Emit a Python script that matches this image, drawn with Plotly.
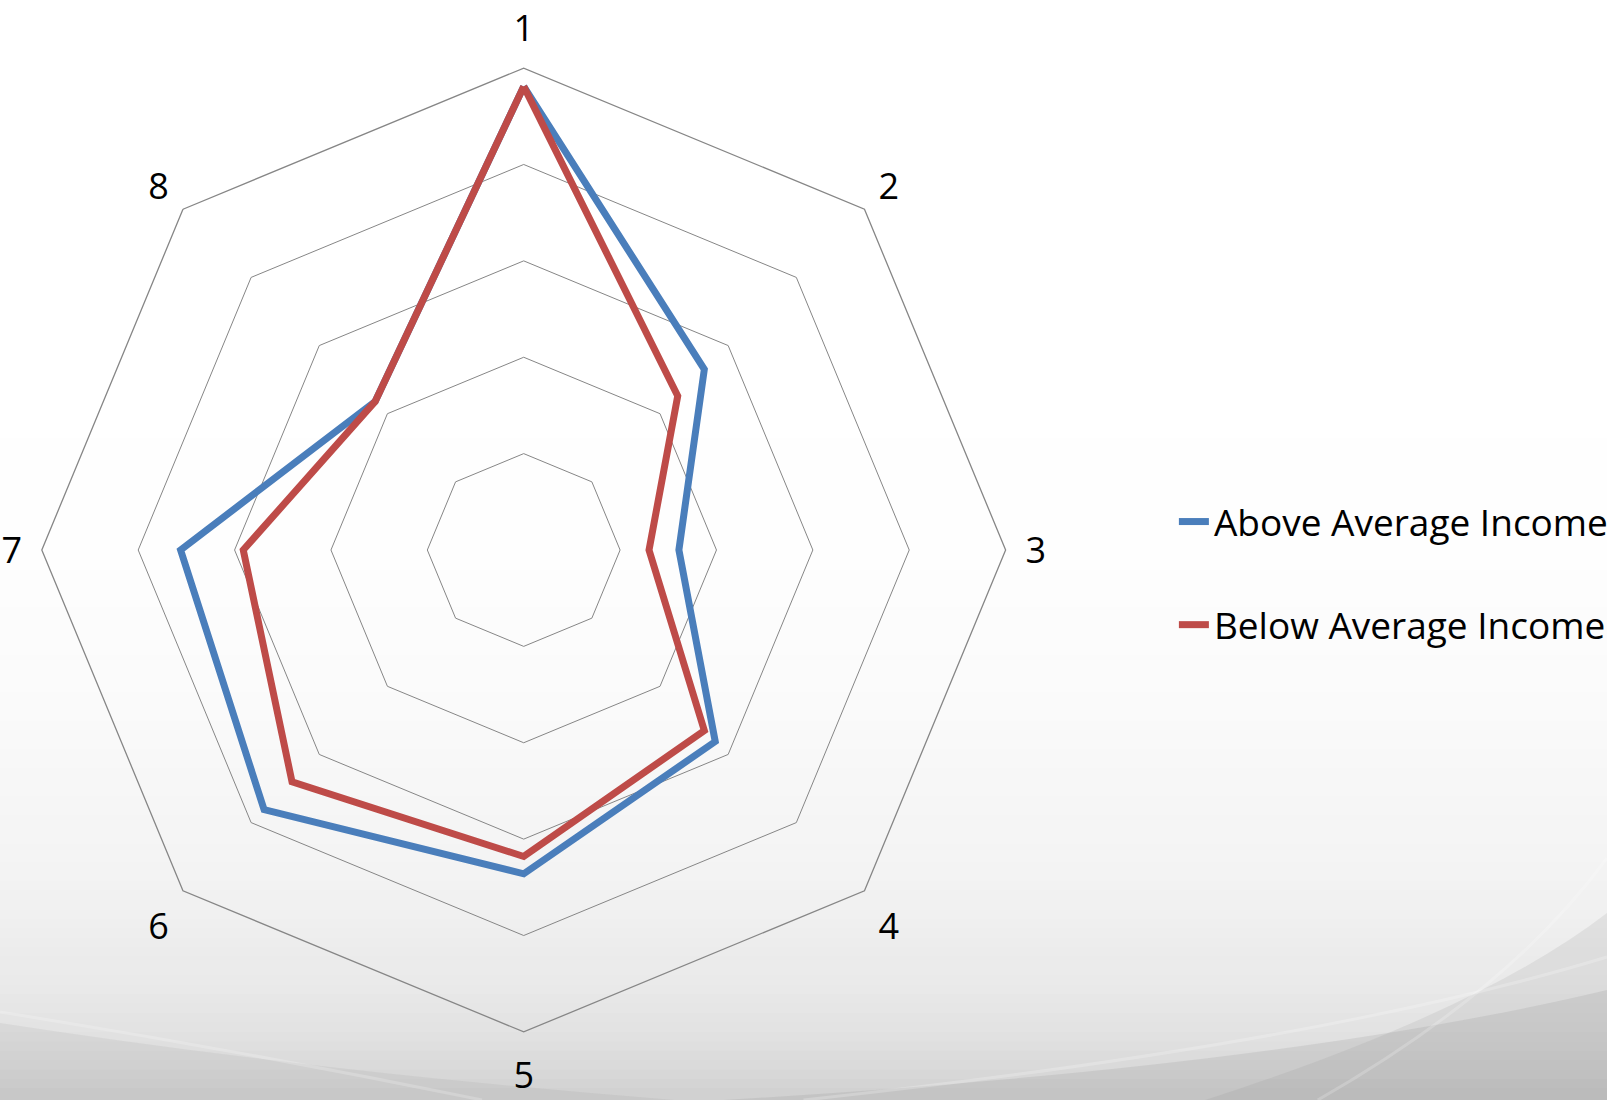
import plotly.graph_objects as go

categories = ["1", "2", "3", "4", "5", "6", "7", "8"]
above_avg = [4.81, 2.65, 1.61, 2.81, 3.36, 3.81, 3.56, 2.18]
below_avg = [4.81, 2.26, 1.30, 2.65, 3.18, 3.40, 2.91, 2.18]
series_names = ["Above Average Income", "Below Average Income"]
series_colors = ["#4A7EBB", "#BE4B48"]

W, H = 1614, 1100
fig = go.Figure()
for name, vals, col in zip(series_names, [above_avg, below_avg], series_colors):
    fig.add_trace(go.Scatterpolar(
        r=vals + vals[:1], theta=categories + categories[:1],
        mode="lines", name=name, legendgroup=name,
        line=dict(color=col, width=7), hoverinfo="skip",
    ))

# background gradient (white top -> light gray bottom)
stops = [(0.0, 255), (0.5, 254), (0.65, 250), (0.8, 243), (0.9, 233), (0.95, 224), (1.0, 208)]
def gray_at(t):
    for (t0, v0), (t1, v1) in zip(stops[:-1], stops[1:]):
        if t0 <= t <= t1:
            return v0 + (v1 - v0) * (t - t0) / (t1 - t0)
    return stops[-1][1]
shapes = []
n = 70
for i in range(n):
    t0 = 0.4 + 0.6 * i / n
    t1 = 0.4 + 0.6 * (i + 1) / n
    v = int(round(gray_at((t0 + t1) / 2)))
    shapes.append(dict(type="rect", xref="paper", yref="paper", x0=0, x1=1,
                       y0=1 - t1, y1=1 - t0 + 0.002, fillcolor=f"rgb({v},{v},{v})",
                       line=dict(width=0), layer="below"))
# swooshes
shapes.append(dict(type="path", xref="paper", yref="paper", layer="below",
                   path="M 0.45,0 Q 0.8,0.03 1,0.1 L 1,0 Z",
                   fillcolor="rgba(140,140,140,0.18)", line=dict(width=0)))
shapes.append(dict(type="path", xref="paper", yref="paper", layer="below",
                   path="M 0.75,0 Q 0.92,0.08 1,0.17 L 1,0 Z",
                   fillcolor="rgba(140,140,140,0.15)", line=dict(width=0)))
shapes.append(dict(type="path", xref="paper", yref="paper", layer="below",
                   path="M 0,0.07 Q 0.2,0.025 0.42,0 L 0,0 Z",
                   fillcolor="rgba(140,140,140,0.12)", line=dict(width=0)))
shapes.append(dict(type="path", xref="paper", yref="paper", layer="below",
                   path="M 0.5,0.0 Q 0.82,0.05 1,0.13",
                   line=dict(color="rgba(255,255,255,0.22)", width=3)))
shapes.append(dict(type="path", xref="paper", yref="paper", layer="below",
                   path="M 0.82,0.0 Q 0.94,0.1 1,0.22",
                   line=dict(color="rgba(255,255,255,0.2)", width=3)))
shapes.append(dict(type="path", xref="paper", yref="paper", layer="below",
                   path="M 0,0.08 Q 0.15,0.045 0.3,0.0",
                   line=dict(color="rgba(255,255,255,0.2)", width=3)))

cx, cy, R = 526, 550, 484
fig.update_layout(
    width=W, height=H,
    margin=dict(l=0, r=0, t=0, b=0),
    paper_bgcolor="white",
    shapes=shapes,
    font=dict(family="Open Sans", color="black"),
    polar=dict(
        domain=dict(x=[(cx - R) / W, (cx + R) / W], y=[(H - cy - R) / H, (H - cy + R) / H]),
        bgcolor="rgba(0,0,0,0)",
        gridshape="linear",
        radialaxis=dict(range=[0, 5], dtick=1, showticklabels=False, ticks="",
                        showline=False, gridcolor="#868686", gridwidth=1.3),
        angularaxis=dict(direction="clockwise", rotation=90, showgrid=False,
                         showline=True, linecolor="#868686", linewidth=1.3,
                         ticks="outside", ticklen=12, tickcolor="rgba(0,0,0,0)",
                         tickfont=dict(size=36, family="Open Sans", color="black")),
    ),
    legend=dict(x=1179 / W, y=1 - 491 / H, xanchor="left", yanchor="top",
                font=dict(size=37, family="Open Sans", color="black"),
                bgcolor="rgba(0,0,0,0)", tracegroupgap=52),
    showlegend=True,
)
fig.write_html("out.html", config={"displayModeBar": False},
               post_script="document.body.style.margin='0';document.body.style.overflow='hidden';")
